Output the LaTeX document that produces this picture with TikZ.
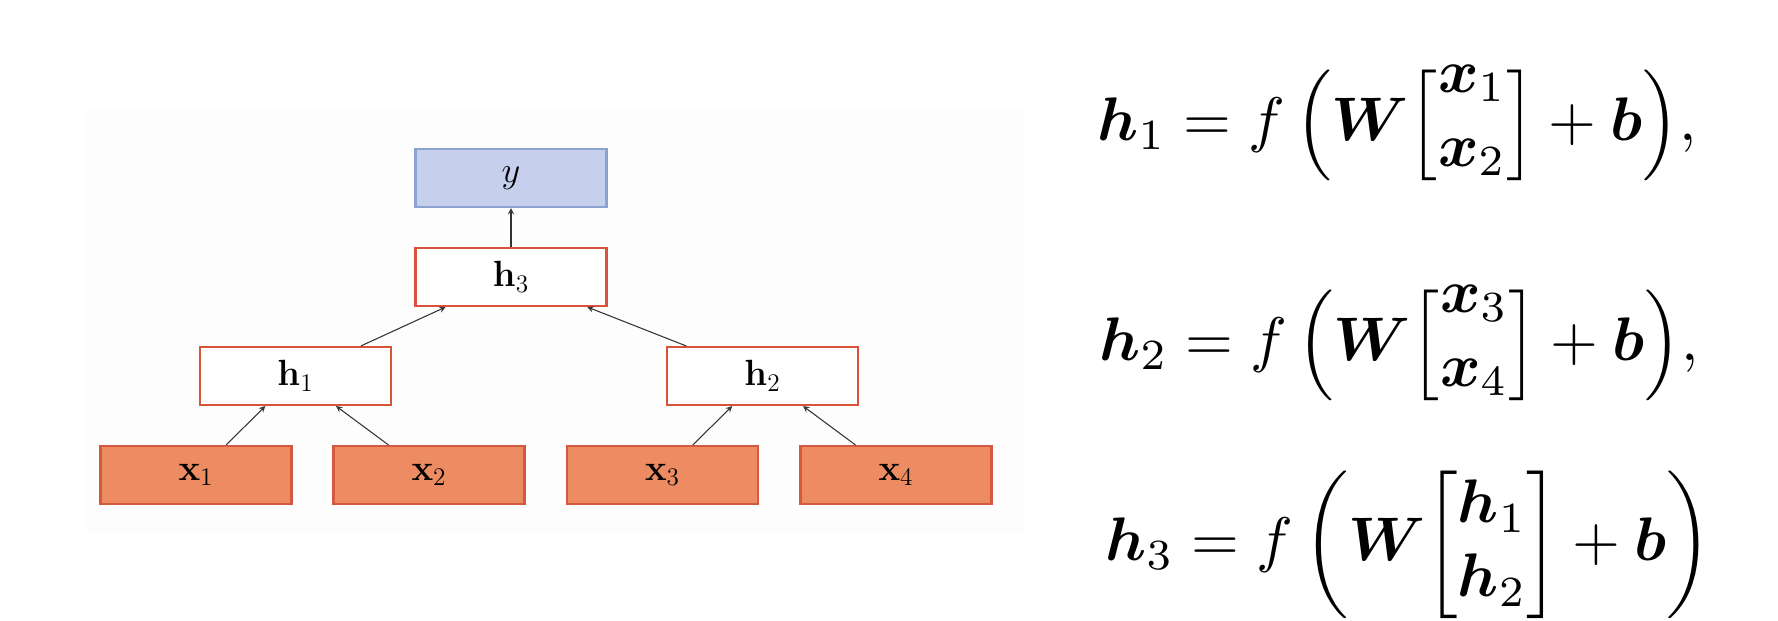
\documentclass[tikz,border=0pt]{standalone}
\usepackage{amsmath}
\usepackage{amssymb}
\usepackage{graphicx}
\usepackage{tikz}
\definecolor{inorange}{RGB}{237,139,99}
\definecolor{inborder}{RGB}{212,90,63}
\definecolor{hidred}{RGB}{217,83,58}
\definecolor{outblue}{RGB}{198,207,235}
\definecolor{outborder}{RGB}{140,163,207}
\definecolor{panelgray}{RGB}{253,253,253}
\newcommand{\bv}[1]{\boldsymbol{#1}}
\newcommand{\colvec}[2]{\raisebox{1.7pt}{$\begin{matrix}#1\\ #2\end{matrix}$}}

\begin{document}
\begin{tikzpicture}[>=stealth, line width=0.6pt,
    box/.style={rectangle, minimum width=3.82cm, minimum height=1.16cm, line width=1.2pt, font=\fontsize{20.74}{25}\selectfont},
    inbox/.style={box, draw=inborder, fill=inorange},
    hidbox/.style={box, draw=hidred, fill=white},
    outbox/.style={box, draw=outborder, fill=outblue},
    eqn/.style={anchor=base west, inner sep=0pt, font=\normalsize}]
    \useasboundingbox (0,0) rectangle (35.56,12.4);
    \fill[panelgray] (1.7,1.74) rectangle (20.5,10.24);
    % tree
    \node[outbox] (y) at (10.22,8.84) {$y$};
    \node[hidbox] (h3) at (10.22,6.86) {$\mathbf{h}_3$};
    \node[hidbox] (h1) at (5.91,4.88) {$\mathbf{h}_1$};
    \node[hidbox] (h2) at (15.25,4.88) {$\mathbf{h}_2$};
    \node[inbox] (x1) at (3.92,2.90) {$\mathbf{x}_1$};
    \node[inbox] (x2) at (8.58,2.90) {$\mathbf{x}_2$};
    \node[inbox] (x3) at (13.25,2.90) {$\mathbf{x}_3$};
    \node[inbox] (x4) at (17.92,2.90) {$\mathbf{x}_4$};
    \draw[->, black!80] (x1) -- (h1);
    \draw[->, black!80] (x2) -- (h1);
    \draw[->, black!80] (x3) -- (h2);
    \draw[->, black!80] (x4) -- (h2);
    \draw[->, black!80] (h1) -- (h3);
    \draw[->, black!80] (h2) -- (h3);
    \draw[->, black!80] (h3) -- (y);
    % equations
    \node[eqn] (eq1) at (21.94,9.59) {\scalebox{3.5}{$\bv{h}_1 = f\,\Bigl(\bv{W}\Bigl[\colvec{\bv{x}_1}{\bv{x}_2}\Bigr] + \bv{b}\Bigr),$}};
    \node[eqn] (eq2) at (21.98,5.19) {\scalebox{3.5}{$\bv{h}_2 = f\,\Bigl(\bv{W}\Bigl[\colvec{\bv{x}_3}{\bv{x}_4}\Bigr] + \bv{b}\Bigr),$}};
    \node[eqn] (eq3) at (22.10,1.19) {\scalebox{3.5}{$\bv{h}_3 = f\,\biggl(\bv{W}\biggl[\begin{matrix}\bv{h}_1\\ \bv{h}_2\end{matrix}\biggr] + \bv{b}\biggr)$}};
\end{tikzpicture}
\end{document}
